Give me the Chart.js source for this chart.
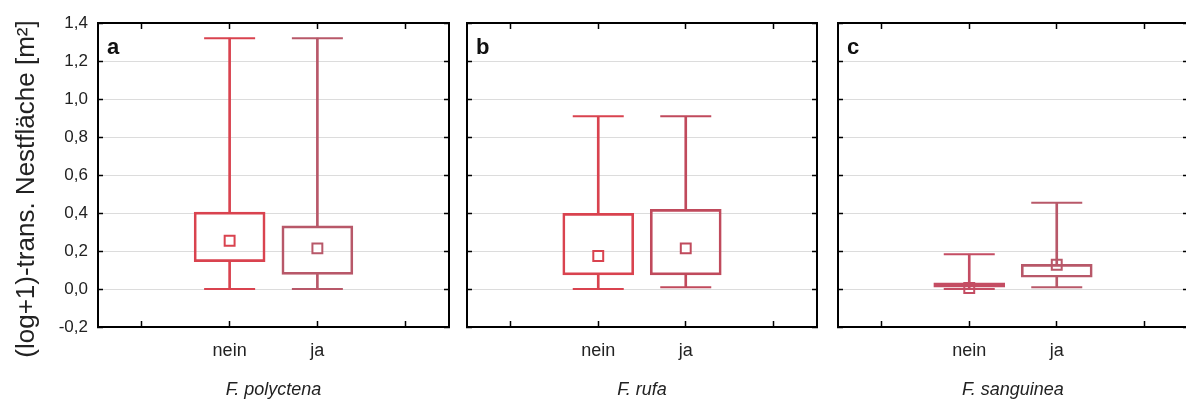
<!DOCTYPE html>
<html>
<head>
<meta charset="utf-8">
<script src="https://cdn.jsdelivr.net/npm/chart.js@4.4.1/dist/chart.umd.min.js"></script>
<style>
    html, body {
        margin: 0;
        padding: 0;
        background: #fff;
        overflow: hidden;
    }
    body {
        width: 1186px;
        height: 399px;
        position: relative;
    }
    canvas {
        position: absolute;
        top: 0;
    }
</style>
</head>
<body>
<canvas id="panelA" width="452" height="399" style="left:0px"></canvas>
<canvas id="panelB" width="356" height="399" style="left:464px"></canvas>
<canvas id="panelC" width="356" height="399" style="left:835px"></canvas>
<script>
// categories (empty slots left and right, as in the original figure)
const categories = ["", "nein", "ja", ""];
const yTickLabels = ["-0,2", "0,0", "0,2", "0,4", "0,6", "0,8", "1,0", "1,2", "1,4"];
const yTitle = "(log+1)-trans. Nestfläche [m²]";

// F. polyctena
const polyctenaMin = [null, 0.0, 0.0, null];
const polyctenaQ1 = [null, 0.144, 0.077, null];
const polyctenaMean = [null, 0.254, 0.214, null];
const polyctenaQ3 = [null, 0.405, 0.332, null];
const polyctenaMax = [null, 1.32, 1.32, null];

// F. rufa
const rufaMin = [null, 0.0, 0.009, null];
const rufaQ1 = [null, 0.074, 0.074, null];
const rufaMean = [null, 0.174, 0.214, null];
const rufaQ3 = [null, 0.398, 0.419, null];
const rufaMax = [null, 0.909, 0.909, null];

// F. sanguinea
const sanguineaMin = [null, 0.0, 0.009, null];
const sanguineaQ1 = [null, 0.009, 0.062, null];
const sanguineaMean = [null, 0.005, 0.128, null];
const sanguineaQ3 = [null, 0.033, 0.13, null];
const sanguineaMax = [null, 0.183, 0.454, null];

const FONT = "'Liberation Sans', Arial, sans-serif";
const TEXT = "#222";

function pairs(lo, hi) {
    return lo.map((v, i) => (v == null ? null : [v, hi[i]]));
}

const panelText = {
    id: "panelText",
    afterDraw(chart, args, opts) {
        const ctx = chart.ctx;
        const area = chart.chartArea;
        ctx.save();
        ctx.fillStyle = "#111";
        ctx.font = "bold 22px " + FONT;
        ctx.textBaseline = "alphabetic";
        ctx.fillText(opts.letter, area.left + 9, area.top + 31);
        if (opts.yTitle) {
            ctx.translate(27, 189);
            ctx.rotate(-Math.PI / 2);
            ctx.font = "26px " + FONT;
            ctx.fillStyle = TEXT;
            ctx.textAlign = "center";
            ctx.textBaseline = "middle";
            ctx.fillText(opts.yTitle, 0, 0);
        }
        ctx.restore();
    },
};

function makePanel(id, opt) {
    const colors = [null, opt.colorNein, opt.colorJa, null];
    const lineStyle = {
        type: "line",
        showLine: false,
        pointStyle: "line",
        pointRadius: 25.5,
        pointBorderWidth: 2,
        pointBorderColor: colors,
    };

    new Chart(document.getElementById(id), {
        type: "bar",
        data: {
            labels: categories,
            datasets: [
                {
                    data: pairs(opt.q3, opt.max),
                    grouped: false,
                    barThickness: 2,
                    backgroundColor: colors,
                    borderWidth: 0,
                },
                {
                    data: pairs(opt.min, opt.q1),
                    grouped: false,
                    barThickness: 2,
                    backgroundColor: colors,
                    borderWidth: 0,
                },
                {
                    data: pairs(opt.q1, opt.q3),
                    grouped: false,
                    barThickness: 71,
                    backgroundColor: "rgba(255,255,255,0)",
                    borderColor: colors,
                    borderWidth: 2,
                    borderSkipped: false,
                },
                Object.assign({ data: opt.max }, lineStyle),
                Object.assign({ data: opt.min }, lineStyle),
                {
                    type: "line",
                    data: opt.mean,
                    showLine: false,
                    pointStyle: "rect",
                    pointRadius: 7,
                    pointBorderWidth: 2,
                    pointBorderColor: colors,
                    pointBackgroundColor: "#fff",
                },
            ],
        },
        options: {
            responsive: false,
            animation: false,
            events: [],
            layout: {
                autoPadding: false,
                padding: { left: 0, right: 3, top: 23, bottom: 0 },
            },
            plugins: {
                legend: { display: false },
                tooltip: { enabled: false },
                panelText: { letter: opt.letter, yTitle: opt.yTitle },
            },
            scales: {
                x: {
                    type: "category",
                    labels: categories,
                    position: "bottom",
                    offset: true,
                    grid: {
                        offset: false,
                        drawOnChartArea: false,
                        drawTicks: true,
                        tickLength: -6,
                        tickColor: "#000",
                        tickWidth: 1.5,
                    },
                    border: { color: "#000", width: 2 },
                    ticks: {
                        autoSkip: false,
                        maxRotation: 0,
                        padding: 19,
                        color: TEXT,
                        font: { family: FONT, size: 18 },
                    },
                    title: {
                        display: true,
                        text: opt.species,
                        color: TEXT,
                        padding: 0,
                        font: { family: FONT, size: 18, style: "italic", lineHeight: 1 },
                    },
                    afterFit(scale) {
                        scale.height = 72;
                        scale.paddingLeft = 0;
                        scale.paddingRight = 0;
                    },
                },
                x2: {
                    type: "category",
                    labels: categories,
                    position: "top",
                    offset: true,
                    grid: {
                        offset: false,
                        drawOnChartArea: false,
                        drawTicks: true,
                        tickLength: -6,
                        tickColor: "#000",
                        tickWidth: 1.5,
                    },
                    border: { color: "#000", width: 2 },
                    ticks: { display: false },
                    afterFit(scale) {
                        scale.height = 0;
                        scale.paddingLeft = 0;
                        scale.paddingRight = 0;
                    },
                },
                y: {
                    type: "linear",
                    position: "left",
                    min: -0.2,
                    max: 1.4,
                    grid: {
                        color: "#dcdcdc",
                        lineWidth: 1,
                        drawTicks: true,
                        tickLength: -5,
                        tickColor: "#000",
                        tickWidth: 1.5,
                    },
                    border: { color: "#000", width: 2 },
                    ticks: {
                        display: opt.showYLabels,
                        stepSize: 0.2,
                        padding: 15,
                        color: TEXT,
                        font: { family: FONT, size: 17 },
                        callback: (value, index) => yTickLabels[index],
                    },
                    afterFit(scale) {
                        scale.width = opt.yWidth;
                        scale.paddingTop = 0;
                        scale.paddingBottom = 0;
                    },
                },
                y2: {
                    type: "linear",
                    position: "right",
                    min: -0.2,
                    max: 1.4,
                    grid: {
                        drawOnChartArea: false,
                        drawTicks: true,
                        tickLength: -5,
                        tickColor: "#000",
                        tickWidth: 1.5,
                    },
                    border: { color: "#000", width: 2 },
                    ticks: { display: false, stepSize: 0.2 },
                    afterFit(scale) {
                        scale.width = 0;
                        scale.paddingTop = 0;
                        scale.paddingBottom = 0;
                    },
                },
            },
        },
        plugins: [panelText],
    });
}

makePanel("panelA", {
    letter: "a",
    species: "F. polyctena",
    yTitle: yTitle,
    showYLabels: true,
    yWidth: 98,
    colorNein: "#d9434f",
    colorJa: "#b85869",
    min: polyctenaMin,
    q1: polyctenaQ1,
    mean: polyctenaMean,
    q3: polyctenaQ3,
    max: polyctenaMax,
});

makePanel("panelB", {
    letter: "b",
    species: "F. rufa",
    showYLabels: false,
    yWidth: 3,
    colorNein: "#d9434f",
    colorJa: "#c04a5c",
    min: rufaMin,
    q1: rufaQ1,
    mean: rufaMean,
    q3: rufaQ3,
    max: rufaMax,
});

makePanel("panelC", {
    letter: "c",
    species: "F. sanguinea",
    showYLabels: false,
    yWidth: 3,
    colorNein: "#c44d63",
    colorJa: "#b85869",
    min: sanguineaMin,
    q1: sanguineaQ1,
    mean: sanguineaMean,
    q3: sanguineaQ3,
    max: sanguineaMax,
});
</script>
</body>
</html>
